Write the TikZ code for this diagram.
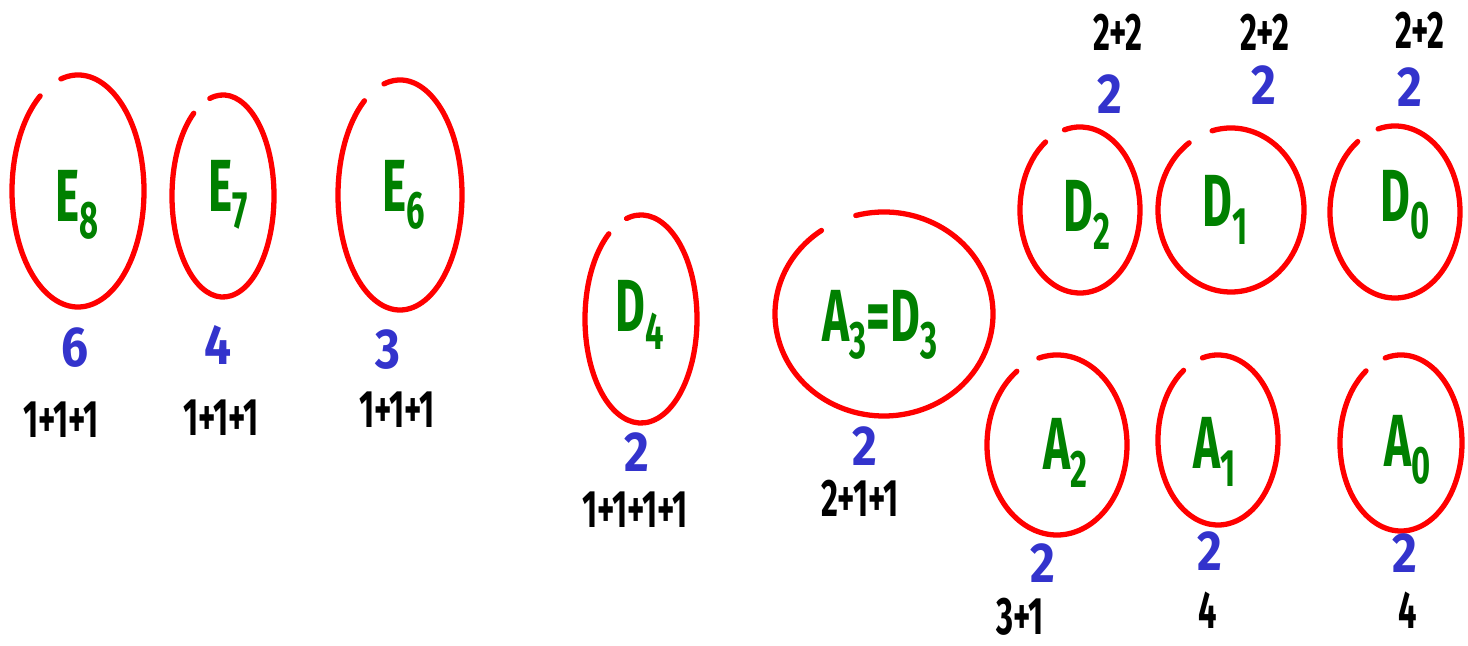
\documentclass[tikz,border=0pt]{standalone}
\usepackage{fontspec}
\newfontfamily\handfont[FakeStretch=0.62]{Fira Sans}
\newfontfamily\rankfont[FakeStretch=0.85]{Fira Sans}
\usetikzlibrary{positioning}
\definecolor{loopred}{RGB}{255,0,0}
\definecolor{rootgreen}{RGB}{0,128,0}
\definecolor{rankblue}{RGB}{51,51,204}
\newcommand{\lowidx}[1]{\raisebox{-0.45ex}{\fontsize{15}{15}\selectfont #1}}

\begin{document}
\begin{tikzpicture}[
    x=0.01cm,y=-0.01cm,
    loopline/.style={draw=loopred,line width=1.5pt,line cap=round},
    diagram/.style={text=rootgreen,inner sep=0pt,font=\handfont\bfseries\fontsize{21}{21}\selectfont},
    rank/.style={text=rankblue,inner sep=0pt,font=\rankfont\bfseries\fontsize{16}{16}\selectfont},
    split/.style={text=black,inner sep=0pt,font=\handfont\bfseries\fontsize{15}{15}\selectfont}
  ]
    \useasboundingbox (0,0) rectangle (1468,646);

    % hand-drawn loops round each diagram
    \foreach \cx/\cy/\rx/\ry in {78/191/66/116, 223/196/51/101, 400/195/62/115,
        641/319/56/104, 884/314/109/102,
        1080/210/60/83, 1231/210/73/82, 1395/212/65/86,
        1057/445/70/90, 1218/440/60/85, 1401/443/61/88}
      \draw[loopline] (\cx,\cy) ++(255:{\rx} and {\ry})
        arc[start angle=255,end angle=595,x radius=\rx,y radius=\ry];

    % exceptional series
    \node[diagram] (e8) at (77,205) {E\lowidx{8}};
    \node[diagram] (e7) at (228,195) {E\lowidx{7}};
    \node[diagram] (e6) at (404,195) {E\lowidx{6}};
    \node[rank] (e8r) at (75,348) {6};
    \node[rank] (e7r) at (218,345) {4};
    \node[rank] (e6r) at (388,350) {3};
    \node[split] (e8s) at (61,420) {1+1+1};
    \node[split] (e7s) at (221,418) {1+1+1};
    \node[split] (e6s) at (397,410) {1+1+1};

    % D4 and A3 = D3
    \node[diagram] (d4) at (640,315) {D\lowidx{4}};
    \node[diagram] (a3) at (880,325) {A\lowidx{3}=D\lowidx{3}};
    \node[rank] (d4r) at (637,452) {2};
    \node[rank] (a3r) at (865,446) {2};
    \node[split] (d4s) at (635,510) {1+1+1+1};
    \node[split] (a3s) at (860,498) {2+1+1};

    % small D series
    \node[diagram] (d2) at (1087,215) {D\lowidx{2}};
    \node[diagram] (d1) at (1225,210) {D\lowidx{1}};
    \node[diagram] (d0) at (1405,205) {D\lowidx{0}};
    \node[rank] (d2r) at (1110,94) {2};
    \node[rank] (d1r) at (1264,85) {2};
    \node[rank] (d0r) at (1410,87) {2};
    \node[split] (d2s) at (1118,32) {2+2};
    \node[split] (d1s) at (1265,32) {2+2};
    \node[split] (d0s) at (1420,30) {2+2};

    % small A series
    \node[diagram] (a2) at (1065,453) {A\lowidx{2}};
    \node[diagram] (a1) at (1215,452) {A\lowidx{1}};
    \node[diagram] (a0) at (1408,450) {A\lowidx{0}};
    \node[rank] (a2r) at (1043,563) {2};
    \node[rank] (a1r) at (1210,551) {2};
    \node[rank] (a0r) at (1405,553) {2};
    \node[split] (a2s) at (1020,617) {3+1};
    \node[split] (a1s) at (1208,610) {4};
    \node[split] (a0s) at (1408,610) {4};
  \end{tikzpicture}
\end{document}
